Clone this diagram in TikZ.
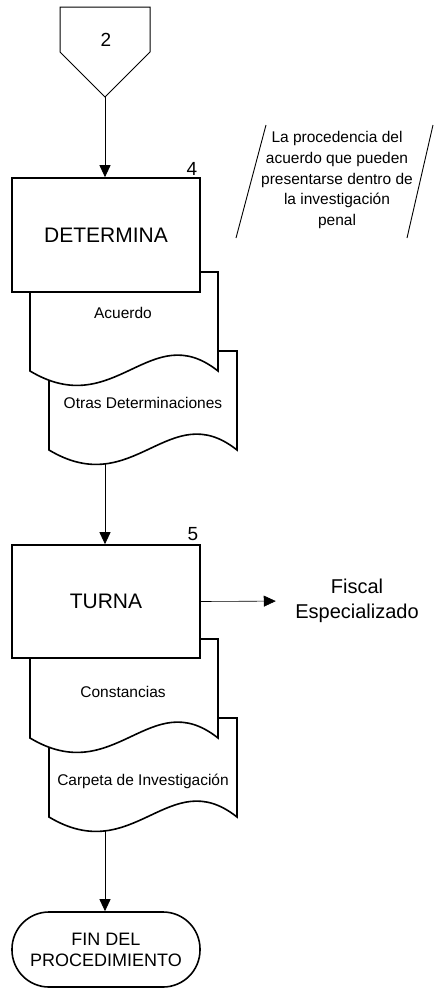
\documentclass[tikz,border=0pt]{standalone}
\usepackage{fontspec}
\setmainfont{Liberation Sans}
\usetikzlibrary{arrows.meta}

% document shape: top left corner at (#1,#2)
\newcommand{\docshape}[2]{%
  \draw[doc, shift={(#1,#2)}] (0,99) -- (0,0) -- (188,0) -- (188,99)
    .. controls (120,45) and (85,150) .. (0,99) -- cycle;}

\begin{document}
\begin{tikzpicture}[x=1pt, y=-1pt,
  box/.style={draw, line width=1.6pt, fill=white,
              minimum width=188pt, minimum height=114pt, inner sep=0pt,
              font=\fontsize{21}{25}\selectfont},
  doc/.style={draw, line width=1.6pt, fill=white},
  doctext/.style={font=\fontsize{15.5}{19}\selectfont},
  num/.style={font=\fontsize{19}{22}\selectfont},
  term/.style={draw, line width=1.6pt, rounded corners=37pt,
               minimum width=188pt, minimum height=75pt, align=center,
               font=\fontsize{18}{21}\selectfont},
  note/.style={align=center, font=\fontsize{15.5}{20.75}\selectfont},
  arr/.style={-{Triangle[width=11pt,length=12pt]}, line width=0.9pt}
]
  \useasboundingbox (0,0) rectangle (434,988);

  % off-page connector
  \draw[line width=1pt] (60,7) -- (150,7) -- (150,52) -- (105,97) -- (60,52) -- cycle;
  \node[num] (c2) at (106,40) {2};
  \coordinate (c2tip) at (105,97);

  % note
  \draw[line width=0.9pt] (236,238) -- (266,125);
  \draw[line width=0.9pt] (407,238) -- (433,125);
  \node[note] (nota) at (337,180) {La procedencia del\\acuerdo que pueden\\presentarse dentro de\\la investigaci\'on\\penal};

  % step 4
  \docshape{49}{351}
  \node[doctext] (otras) at (143,403) {Otras Determinaciones};
  \coordinate (otrasb) at (105,464);
  \docshape{30}{272}
  \node[doctext] (acuerdo) at (123,313) {Acuerdo};
  \node[box] (det) at (106,235) {DETERMINA};
  \node[num] (n4) at (192,169) {4};

  % step 5
  \docshape{49}{718}
  \node[doctext] (carpeta) at (143,781) {Carpeta de Investigaci\'on};
  \coordinate (carpetab) at (105,831);
  \docshape{30}{639}
  \node[doctext] (const) at (123,692) {Constancias};
  \node[box, minimum height=113pt] (turna) at (106,601.5) {TURNA};
  \node[num] (n5) at (193,534) {5};

  \node[font=\fontsize{20}{25}\selectfont, align=center] (fiscal) at (357,601) {Fiscal\\Especializado};

  % end
  \node[term] (fin) at (106,949.5) {FIN DEL\\PROCEDIMIENTO};

  \draw[arr] (c2tip) -- (det.north -| c2tip);
  \draw[arr] (otrasb) -- (turna.north -| otrasb);
  \draw[arr] (carpetab) -- (fin.north -| carpetab);
  \draw[arr, line width=0.6pt, shorten >=16pt] (turna.east) -- (fiscal.west);
\end{tikzpicture}
\end{document}
